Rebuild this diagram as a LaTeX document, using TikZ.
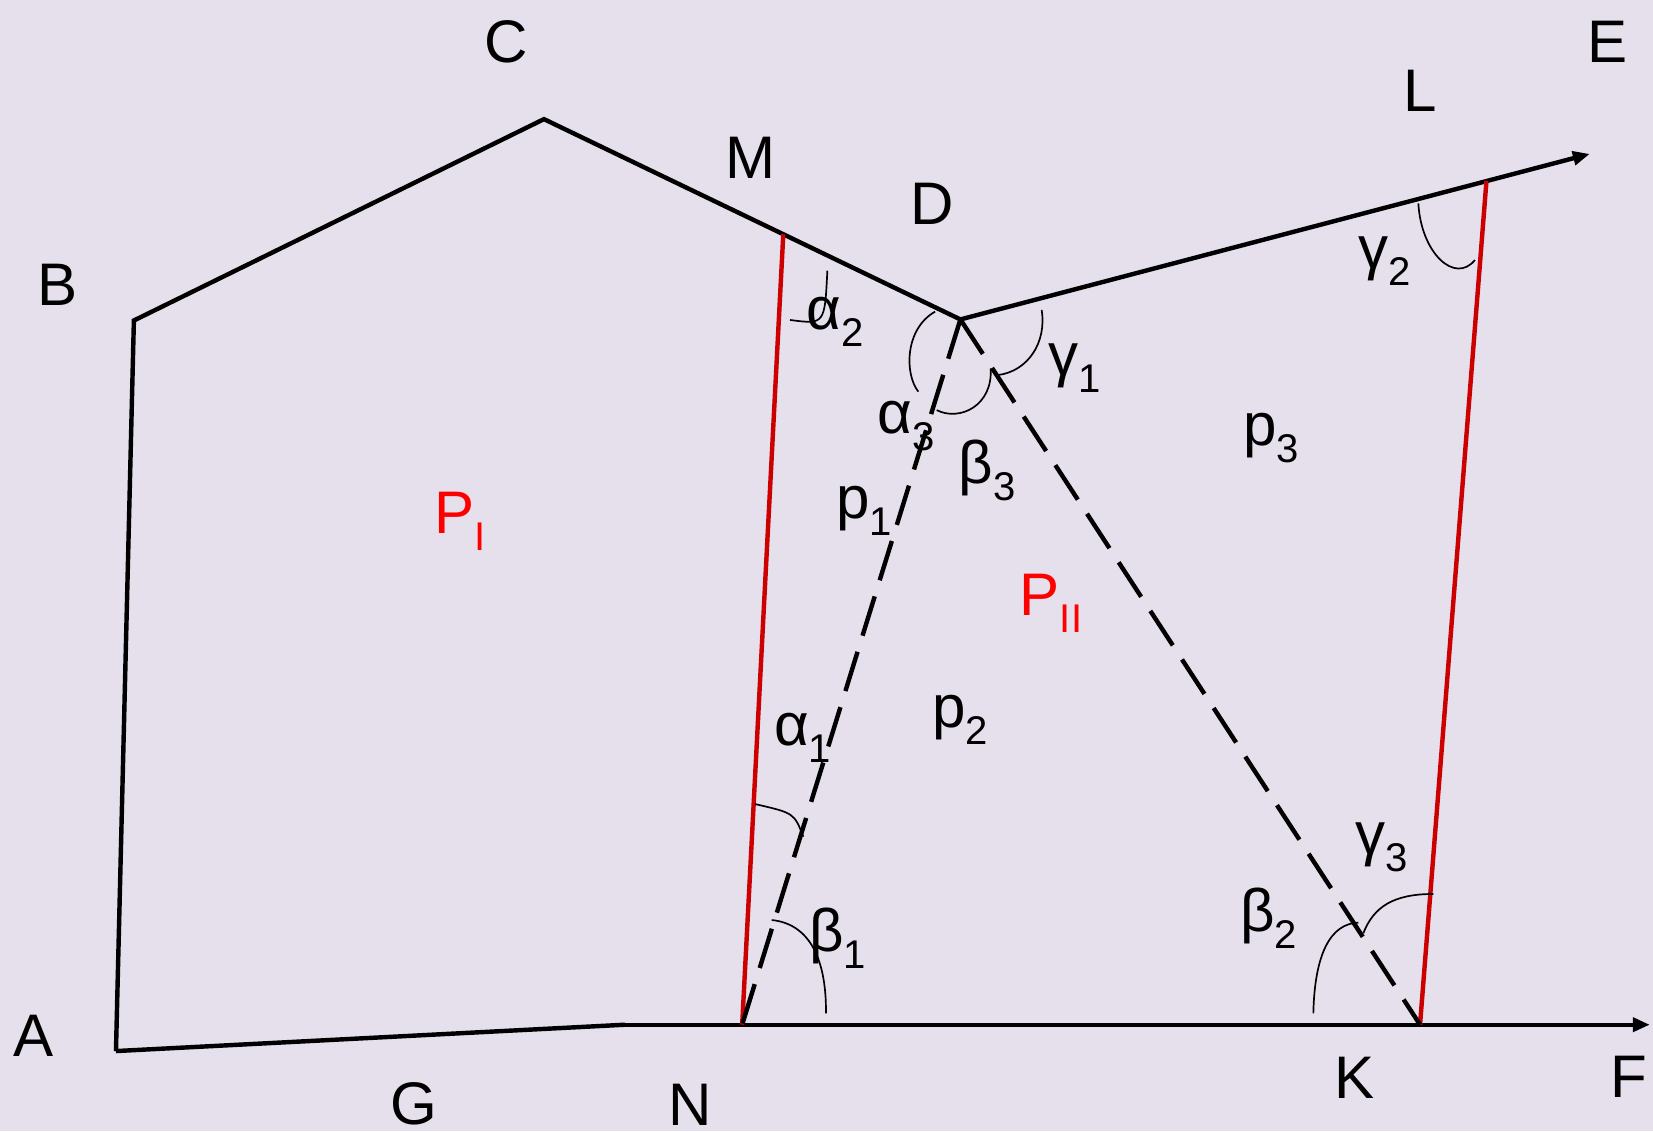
\documentclass[tikz,border=0pt]{standalone}
\usepackage{fontspec}
\setmainfont{Liberation Sans}
\usetikzlibrary{arrows.meta}
\definecolor{bg}{RGB}{229,224,236}
\definecolor{redline}{RGB}{204,0,0}
\definecolor{redtext}{RGB}{255,0,0}
\newcommand{\subl}[2]{#1\raisebox{-8pt}{\fontsize{19}{20}\selectfont #2}}
\begin{document}
\begin{tikzpicture}[x=0.5pt,y=-0.5pt,
  lbl/.style={font=\fontsize{28.5}{30}\selectfont, inner sep=0pt, anchor=base},
  glbl/.style={lbl, anchor=base west},
  edge/.style={line width=2.1pt, line join=miter},
  redseg/.style={line width=2.1pt, draw=redline},
  dashseg/.style={line width=2.1pt, dash pattern=on 19.5pt off 8pt},
  anglearc/.style={line width=0.8pt},
  tipped/.style={-{Triangle[length=8pt,width=6.5pt]}}
]
\fill[bg] (0,0) rectangle (1568,1073);
\useasboundingbox (0,0) rectangle (1568,1073);

% points
\coordinate (A) at (110,997);
\coordinate (B) at (127,304);
\coordinate (C) at (516,113);
\coordinate (D) at (911,303);
\coordinate (Eend) at (1508,146);
\coordinate (G) at (593,972);
\coordinate (Fend) at (1565,972);
\coordinate (M) at (743,222.2);
\coordinate (N) at (704,972);
\coordinate (L) at (1410,171.8);
\coordinate (K) at (1347,972);

% outline
\draw[edge] (A) -- (B) -- (C) -- (D);
\draw[edge,tipped] (D) -- (Eend);
\draw[edge] (A) -- (G);
\draw[edge,tipped] (G) -- (Fend);

% red cuts
\draw[redseg] (M) -- (N);
\draw[redseg] (L) -- (K);

% dashed
\draw[dashseg] (D) -- (N);
\draw[dashseg] (D) -- (K);

% angle arcs
\draw[anglearc] (749.4,303.5) .. controls (782.3,307.8) .. (784.8,256.8);
\draw[anglearc] (887,295.6) .. controls (858,312) and (858,355) .. (871.1,371.5);
\draw[anglearc] (888.5,389) .. controls (910,400) and (942,385) .. (939.7,349.4);
\draw[anglearc] (988.1,294) .. controls (993,325) and (975,352) .. (947,355.7);
\draw[anglearc] (1345.4,192.9) .. controls (1348,240) and (1380,270) .. (1399.1,246.6);
\draw[anglearc] (716.2,762.7) .. controls (753.3,771.2) .. (762,793.7);
\draw[anglearc] (732,872.7) .. controls (765,876) and (784,905) .. (783.5,961.2);
\draw[anglearc] (1245.8,961.2) .. controls (1247,905) and (1262,876) .. (1288.5,875.2);
\draw[anglearc] (1293.2,885.3) .. controls (1303,860) and (1322,848) .. (1359.6,848);

% point labels
\node[lbl] (tA) at (32,1002) {A};
\node[lbl] (tB) at (55,290) {B};
\node[lbl] (tC) at (480,59) {C};
\node[lbl] (tM) at (712,169) {M};
\node[lbl] (tD) at (884,213) {D};
\node[lbl] (tL) at (1347,106) {L};
\node[lbl] (tE) at (1525,59) {E};
\node[lbl] (tG) at (393,1067) {G};
\node[lbl] (tN) at (655,1068) {N};
\node[lbl] (tK) at (1285,1042) {K};
\node[lbl] (tF) at (1545,1041) {F};

% region labels
\node[glbl,text=redtext] (tPI) at (412,506) {\subl{P}{I}};
\node[glbl,text=redtext] (tPII) at (967,584) {\subl{P}{II}};
\node[glbl] (tp1) at (793,492) {\subl{p}{1}};
\node[glbl] (tp2) at (884,690) {\subl{p}{2}};
\node[glbl] (tp3) at (1179,423) {\subl{p}{3}};

% angle labels
\node[glbl] (ta2) at (765,313) {\subl{α}{2}};
\node[glbl] (ta3) at (832,411) {\subl{α}{3}};
\node[glbl] (tb3) at (909,459) {\subl{β}{3}};
\node[glbl] (tg1) at (994,356) {\subl{γ}{1}};
\node[glbl] (tg2) at (1288,255) {\subl{γ}{2}};
\node[glbl] (ta1) at (734,707) {\subl{α}{1}};
\node[glbl] (tb1) at (767,903) {\subl{β}{1}};
\node[glbl] (tb2) at (1176,884) {\subl{β}{2}};
\node[glbl] (tg3) at (1285,811) {\subl{γ}{3}};
\end{tikzpicture}
\end{document}
